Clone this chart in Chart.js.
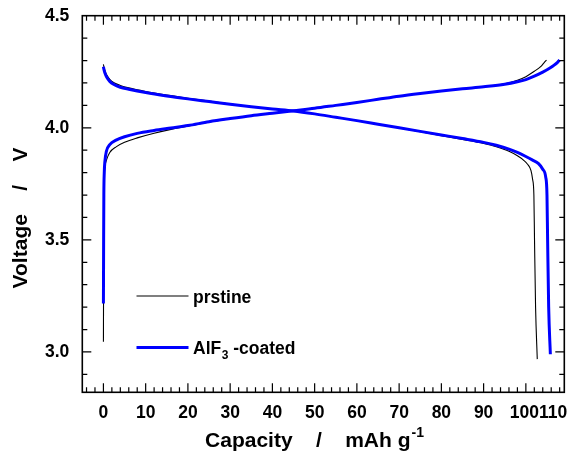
<!DOCTYPE html>
<html><head><meta charset="utf-8">
<script src="https://cdn.jsdelivr.net/npm/chart.js@4.4.0/dist/chart.umd.min.js"></script>
<style>html,body{margin:0;padding:0;background:#fff;}canvas{display:block;}</style>
</head><body>
<canvas id="c" width="571" height="462"></canvas>
<script>
// ---- data ----
const seriesLabels = ['prstine', 'AlF3 -coated'];
const seriesColors = ['#000000', '#0000ff'];

const prstineChargeCap = [0, 0.05, 0.1, 0.2, 0.4, 0.8, 1.5, 3, 5, 8, 12, 16, 20, 25, 30, 35, 40, 45, 50, 55, 60, 65, 70, 75, 80, 85, 90, 95, 98, 100, 102, 103.5, 104.3, 104.9];
const prstineChargeV   = [3.045, 3.40, 3.65, 3.78, 3.83, 3.86, 3.89, 3.915, 3.935, 3.955, 3.976, 3.993, 4.007, 4.026, 4.041, 4.054, 4.065, 4.076, 4.087, 4.100, 4.113, 4.127, 4.141, 4.153, 4.164, 4.174, 4.183, 4.196, 4.212, 4.228, 4.252, 4.273, 4.290, 4.302];

const coatedChargeCap = [0, 0.05, 0.1, 0.2, 0.35, 0.7, 1.5, 3, 5, 8, 12, 16, 20, 25, 30, 35, 40, 45, 50, 55, 60, 65, 70, 75, 80, 85, 90, 95, 98, 100, 102, 104, 105.5, 106.5, 107.5, 108];
const coatedChargeV   = [3.216, 3.50, 3.70, 3.80, 3.85, 3.895, 3.925, 3.945, 3.96, 3.975, 3.988, 3.999, 4.010, 4.027, 4.041, 4.054, 4.065, 4.076, 4.087, 4.100, 4.113, 4.127, 4.141, 4.153, 4.164, 4.174, 4.183, 4.194, 4.205, 4.215, 4.230, 4.248, 4.264, 4.277, 4.292, 4.302];

const prstineDischargeCap = [0, 0.15, 0.4, 0.8, 1.5, 2.5, 4, 6, 10, 15, 20, 25, 30, 35, 40, 45, 50, 55, 60, 65, 70, 75, 80, 85, 90, 93, 96, 98, 99.5, 100.5, 101.2, 101.6, 101.9, 102.05, 102.3, 102.7];
const prstineDischargeV   = [4.283, 4.268, 4.252, 4.235, 4.216, 4.201, 4.189, 4.178, 4.162, 4.146, 4.132, 4.119, 4.106, 4.094, 4.084, 4.075, 4.062, 4.047, 4.032, 4.016, 3.999, 3.982, 3.965, 3.948, 3.930, 3.915, 3.895, 3.875, 3.855, 3.835, 3.81, 3.77, 3.70, 3.50, 3.20, 2.968];

const coatedDischargeCap = [0, 0.15, 0.4, 0.8, 1.5, 2.5, 4, 6, 10, 15, 20, 25, 30, 35, 40, 45, 50, 55, 60, 65, 70, 75, 80, 85, 90, 93, 96, 98, 100, 101.5, 103, 104, 104.7, 105.0, 105.15, 105.4, 105.8];
const coatedDischargeV   = [4.272, 4.258, 4.242, 4.225, 4.207, 4.193, 4.181, 4.172, 4.157, 4.142, 4.129, 4.117, 4.105, 4.094, 4.084, 4.075, 4.062, 4.047, 4.032, 4.016, 4.000, 3.984, 3.968, 3.952, 3.935, 3.922, 3.905, 3.890, 3.872, 3.857, 3.840, 3.815, 3.78, 3.70, 3.50, 3.20, 2.99];

const xTickLabels = [0, 10, 20, 30, 40, 50, 60, 70, 80, 90, 100, 110];
const yTickLabels = [3.0, 3.5, 4.0, 4.5];
const xTitle = 'Capacity    /    mAh g';
const xTitleSup = '-1';
const yTitle = 'Voltage    /    V';

// ---- build ----
const FONT = '"Liberation Sans", Arial, sans-serif';
const pts = (xs, ys) => xs.map((x, i) => ({x: x, y: ys[i]}));
function ds(label, xs, ys, color, w, order) {
  return {label, data: pts(xs, ys), borderColor: color, borderWidth: w, pointRadius: 0,
    fill: false, showLine: true, cubicInterpolationMode: 'monotone', order};
}
const datasets = [
  ds(seriesLabels[1], coatedChargeCap, coatedChargeV, seriesColors[1], 3, 0),
  ds(seriesLabels[1], coatedDischargeCap, coatedDischargeV, seriesColors[1], 3, 0),
  ds(seriesLabels[0], prstineChargeCap, prstineChargeV, seriesColors[0], 1.1, 1),
  ds(seriesLabels[0], prstineDischargeCap, prstineDischargeV, seriesColors[0], 1.1, 1)
];

const decor = {
  id: 'decor',
  afterDraw(chart) {
    const ctx = chart.ctx, xs = chart.scales.x, ys = chart.scales.y;
    const {left, right, top, bottom} = chart.chartArea;
    ctx.save();
    ctx.strokeStyle = '#000';
    ctx.lineWidth = 1.2;
    ctx.beginPath();
    for (let v = -4; v <= 108; v += 2) {
      const p = xs.getPixelForValue(v);
      const len = (v % 10 === 0 && v >= 0) ? 9 : 5;
      ctx.moveTo(p, bottom); ctx.lineTo(p, bottom - len);
      ctx.moveTo(p, top); ctx.lineTo(p, top + len);
    }
    for (let i = 29; i <= 44; i++) {
      const p = ys.getPixelForValue(i / 10);
      const len = (i % 5 === 0) ? 9 : 5;
      ctx.moveTo(left, p); ctx.lineTo(left + len, p);
      ctx.moveTo(right, p); ctx.lineTo(right - len, p);
    }
    ctx.stroke();
    ctx.lineWidth = 1.6;
    ctx.strokeRect(left, top, right - left, bottom - top);

    // x tick labels
    ctx.fillStyle = '#000';
    ctx.font = 'bold 17.5px ' + FONT;
    ctx.textBaseline = 'middle';
    ctx.textAlign = 'left';
    const items = xTickLabels.map(v => {
      const t = String(v), w = ctx.measureText(t).width;
      let c = xs.getPixelForValue(v);
      return {t, w, l: c - w / 2};
    });
    const maxRight = right + 3;
    for (let i = items.length - 1; i >= 0; i--) {
      const lim = (i === items.length - 1) ? maxRight : items[i + 1].l;
      if (items[i].l + items[i].w > lim) items[i].l = lim - items[i].w;
    }
    items.forEach(it => ctx.fillText(it.t, it.l, bottom + 21));

    // x title
    ctx.font = 'bold 21px ' + FONT;
    const w1 = ctx.measureText(xTitle).width;
    ctx.font = 'bold 14px ' + FONT;
    const w2 = ctx.measureText(xTitleSup).width;
    let sx = 314 - (w1 + w2) / 2;
    ctx.font = 'bold 21px ' + FONT;
    ctx.fillText(xTitle, sx, 441);
    ctx.font = 'bold 14px ' + FONT;
    ctx.fillText(xTitleSup, sx + w1 + 1, 433);

    // y title
    ctx.save();
    ctx.translate(21, 218);
    ctx.rotate(-Math.PI / 2);
    ctx.font = 'bold 21px ' + FONT;
    ctx.textAlign = 'center';
    ctx.fillText(yTitle, 0, 0);
    ctx.restore();

    // legend
    const leg = [
      {label: seriesLabels[0], color: seriesColors[0], w: 1.1, y: 296},
      {label: seriesLabels[1], color: seriesColors[1], w: 3, y: 347.5}
    ];
    leg.forEach(L => {
      ctx.strokeStyle = L.color; ctx.lineWidth = L.w;
      ctx.beginPath(); ctx.moveTo(136.5, L.y); ctx.lineTo(188.5, L.y); ctx.stroke();
      ctx.fillStyle = '#000';
      ctx.textAlign = 'left';
      const m = L.label.match(/^(.*?)(\d)( .*)$/);
      let tx = 193, ty = L.y + 2;
      if (m && L.label.indexOf('AlF') === 0) {
        ctx.font = 'bold 17.5px ' + FONT;
        ctx.fillText(m[1], tx, ty); tx += ctx.measureText(m[1]).width + 0.5;
        ctx.font = 'bold 12px ' + FONT;
        ctx.fillText(m[2], tx, ty + 6); tx += ctx.measureText(m[2]).width;
        ctx.font = 'bold 17.5px ' + FONT;
        ctx.fillText(m[3], tx, ty);
      } else {
        ctx.font = 'bold 17.5px ' + FONT;
        ctx.fillText(L.label, tx, ty);
      }
    });
    ctx.restore();
  }
};

new Chart(document.getElementById('c'), {
  type: 'scatter',
  data: {datasets},
  options: {
    responsive: false, animation: false, devicePixelRatio: 1,
    layout: {padding: {left: 0, right: 6.7, top: 15.7, bottom: 0}},
    plugins: {legend: {display: false}, tooltip: {enabled: false}},
    scales: {
      x: {
        type: 'linear', min: -5, max: 109.1,
        grid: {display: false, drawTicks: false},
        border: {display: false},
        ticks: {display: false},
        afterFit(s) { s.height = 462 - 392.3; s.paddingLeft = 0; s.paddingRight = 0; }
      },
      y: {
        type: 'linear', min: 2.82, max: 4.5,
        grid: {display: false, drawTicks: false},
        border: {display: false},
        afterBuildTicks(s) { s.ticks = yTickLabels.map(v => ({value: v})); },
        ticks: {
          padding: 13, color: '#000',
          font: {family: FONT, size: 17.5, weight: 'bold'},
          callback: v => Number(v).toFixed(1)
        },
        afterFit(s) { s.width = 82.3; s.paddingTop = 0; s.paddingBottom = 0; }
      }
    }
  },
  plugins: [decor]
});
</script>
</body></html>
